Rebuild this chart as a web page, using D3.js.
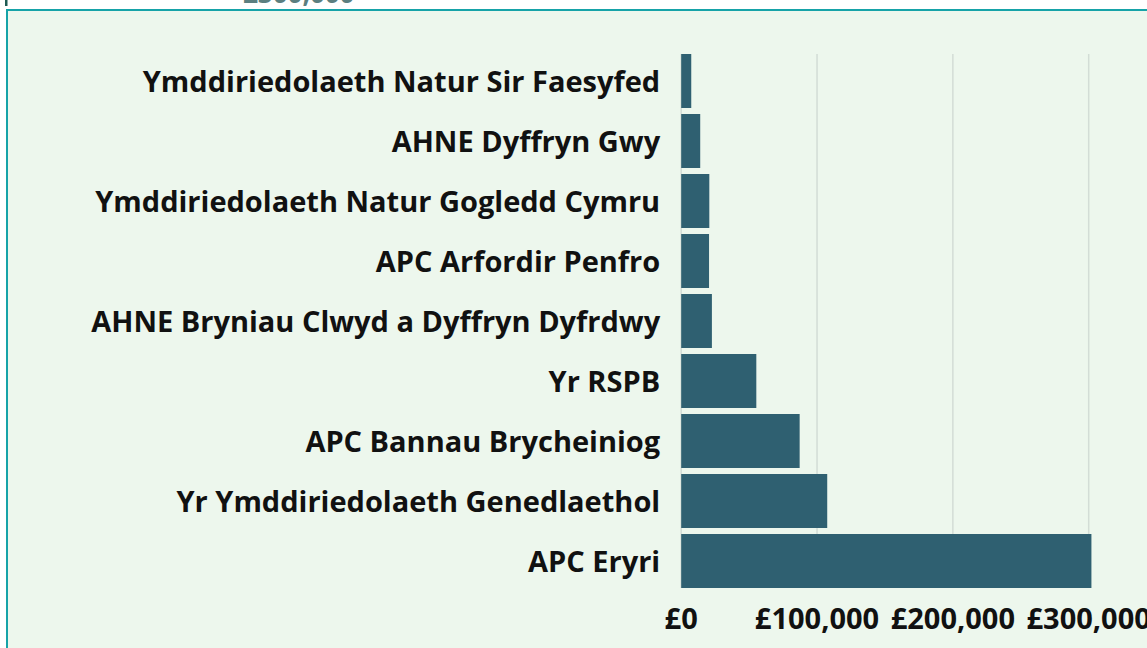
<!DOCTYPE html>
<html>
<head>
<meta charset="utf-8">
<script src="https://cdn.jsdelivr.net/npm/d3@7"></script>
<style>
  html, body { margin: 0; padding: 0; background: #fff; }
  svg { display: block; font-family: "Open Sans", sans-serif; }
</style>
</head>
<body>
<div id="chart"></div>
<script>
// funding by organisation (GBP)
const categories = [
    "Ymddiriedolaeth Natur Sir Faesyfed",
    "AHNE Dyffryn Gwy",
    "Ymddiriedolaeth Natur Gogledd Cymru",
    "APC Arfordir Penfro",
    "AHNE Bryniau Clwyd a Dyffryn Dyfrdwy",
    "Yr RSPB",
    "APC Bannau Brycheiniog",
    "Yr Ymddiriedolaeth Genedlaethol",
    "APC Eryri"
];
const amounts = [7400, 14000, 20700, 20500, 22600, 55300, 87200, 107500, 302000];
const tickValues = [0, 100000, 200000, 300000];

const width = 1147, height = 648;
const data = categories.map((c, i) => ({ name: c, value: amounts[i] }));

const svg = d3.select("#chart")
    .append("svg")
    .attr("width", width)
    .attr("height", height);

// cut-off text from the panel above
svg.append("text")
    .attr("x", 243)
    .attr("y", 3)
    .style("font-size", "26px")
    .style("font-weight", "700")
    .style("fill", "#5b7f80")
    .text("£300,000");

svg.append("rect")
    .attr("x", 5).attr("y", 0)
    .attr("width", 2.5).attr("height", 6)
    .attr("fill", "#1d5a52");

// panel
svg.append("rect")
    .attr("x", 7)
    .attr("y", 10)
    .attr("width", width + 20)
    .attr("height", height)
    .attr("fill", "#edf7ed")
    .attr("stroke", "#16a3a8")
    .attr("stroke-width", 2);

const x = d3.scaleLinear()
    .domain([0, 300000])
    .range([681.2, 1088.7]);

const y = d3.scaleBand()
    .domain(categories)
    .range([51, 591])
    .paddingInner(0.1)
    .paddingOuter(0.05);

const gridTop = y(categories[0]);
const gridBottom = y(categories[categories.length - 1]) + y.bandwidth();

// gridlines
svg.append("g")
    .selectAll("line")
    .data(tickValues)
    .join("line")
    .attr("x1", d => x(d))
    .attr("x2", d => x(d))
    .attr("y1", gridTop)
    .attr("y2", gridBottom)
    .attr("stroke", "#d3ddd6")
    .attr("stroke-width", 1.5);

// bars
svg.append("g")
    .selectAll("rect")
    .data(data)
    .join("rect")
    .attr("x", x(0))
    .attr("y", d => y(d.name))
    .attr("width", d => x(d.value) - x(0))
    .attr("height", y.bandwidth())
    .attr("fill", "#2f6071");

// category labels
svg.append("g")
    .selectAll("text")
    .data(data)
    .join("text")
    .attr("x", x(0) - 21)
    .attr("y", d => y(d.name) + y.bandwidth() / 2 + 1)
    .attr("dy", "0.35em")
    .attr("text-anchor", "end")
    .style("font-size", "29px")
    .style("font-weight", "700")
    .style("fill", "#111")
    .text(d => d.name);

// x axis tick labels
const fmt = d => "£" + d3.format(",")(d);
svg.append("g")
    .selectAll("text")
    .data(tickValues)
    .join("text")
    .attr("x", d => x(d))
    .attr("y", 629)
    .attr("text-anchor", "middle")
    .style("font-size", "29px")
    .style("font-weight", "700")
    .style("fill", "#111")
    .text(fmt);
</script>
</body>
</html>
